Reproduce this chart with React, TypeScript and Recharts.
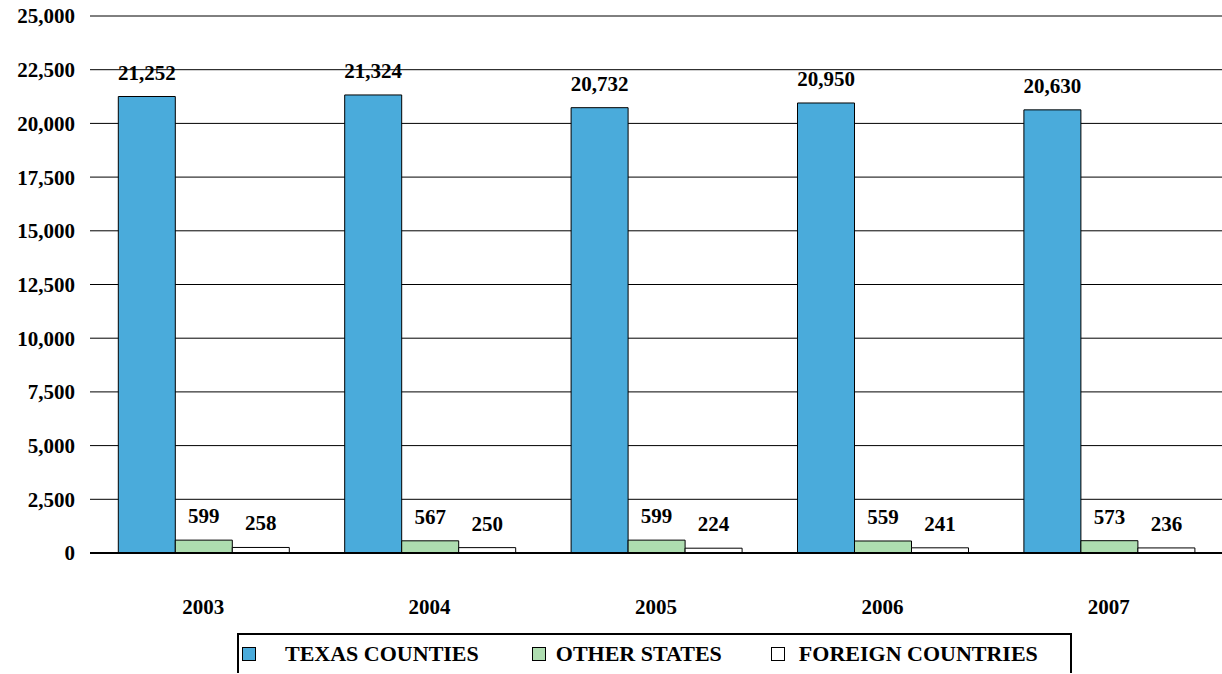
import { BarChart, Bar, XAxis, YAxis, CartesianGrid, Legend, LabelList } from 'recharts';

const years = ['2003', '2004', '2005', '2006', '2007'];
const texasCounties = [21252, 21324, 20732, 20950, 20630];
const otherStates = [599, 567, 599, 559, 573];
const foreignCountries = [258, 250, 224, 241, 236];
const yTicks = [0, 2500, 5000, 7500, 10000, 12500, 15000, 17500, 20000, 22500, 25000];

const series = [
  { key: 'texas', name: 'TEXAS COUNTIES', color: '#4AABDB' },
  { key: 'other', name: 'OTHER STATES', color: '#AEDDB0' },
  { key: 'foreign', name: 'FOREIGN COUNTRIES', color: '#FFFFFF' },
];

const data = years.map((year, i) => ({
  year,
  texas: texasCounties[i],
  other: otherStates[i],
  foreign: foreignCountries[i],
}));

const font = '"Liberation Serif", "Times New Roman", serif';
const fmt = (v: any) => Number(v).toLocaleString('en-US');

// legend drawn as a bordered strip under the chart
const LegendBox = () => (
  <div
    style={{
      display: 'flex',
      alignItems: 'center',
      height: 40,
      border: '2px solid #000',
      borderBottom: 'none',
      boxSizing: 'border-box',
      paddingLeft: 3,
      fontFamily: font,
      fontWeight: 'bold',
      fontSize: 22,
    }}
  >
    {series.map((s, i) => (
      <div key={s.key} style={{ display: 'flex', alignItems: 'center', marginRight: i === 0 ? 53 : i === 1 ? 49 : 0 }}>
        <span
          style={{
            display: 'inline-block',
            width: 12,
            height: 12,
            background: s.color,
            border: '1px solid #000',
            marginRight: i === 0 ? 29 : i === 1 ? 10 : 14,
          }}
        />
        <span>{s.name}</span>
      </div>
    ))}
  </div>
);

export default function App() {
  return (
    <div style={{ position: 'absolute', left: 0, top: 0, background: '#fff' }}>
      <BarChart
        width={1222}
        height={674}
        data={data}
        margin={{ top: 16, right: 0, left: 0, bottom: 51 }}
        barCategoryGap="12.5%"
        barGap={0}
      >
        <CartesianGrid vertical={false} stroke="#000" strokeWidth={1} />
        <XAxis
          dataKey="year"
          axisLine={{ stroke: '#000', strokeWidth: 2 }}
          tickLine={false}
          tick={{ fill: '#000', fontFamily: font, fontWeight: 'bold', fontSize: 21 }}
          dy={38}
        />
        <YAxis
          width={90}
          domain={[0, 25000]}
          ticks={yTicks}
          interval={0}
          axisLine={false}
          tickLine={false}
          tickFormatter={fmt}
          tick={{ fill: '#000', fontFamily: font, fontWeight: 'bold', fontSize: 21 }}
          dx={-7}
        />
        <Legend
          content={<LegendBox />}
          wrapperStyle={{ left: 237, top: 633, width: 835, bottom: 'auto' }}
        />
        {series.map((s) => (
          <Bar
            key={s.key}
            dataKey={s.key}
            name={s.name}
            fill={s.color}
            stroke="#000"
            strokeWidth={1}
            isAnimationActive={false}
          >
            <LabelList
              dataKey={s.key}
              position="top"
              offset={17}
              formatter={fmt}
              style={{ fill: '#000', fontFamily: font, fontWeight: 'bold', fontSize: 21 }}
            />
          </Bar>
        ))}
      </BarChart>
    </div>
  );
}
